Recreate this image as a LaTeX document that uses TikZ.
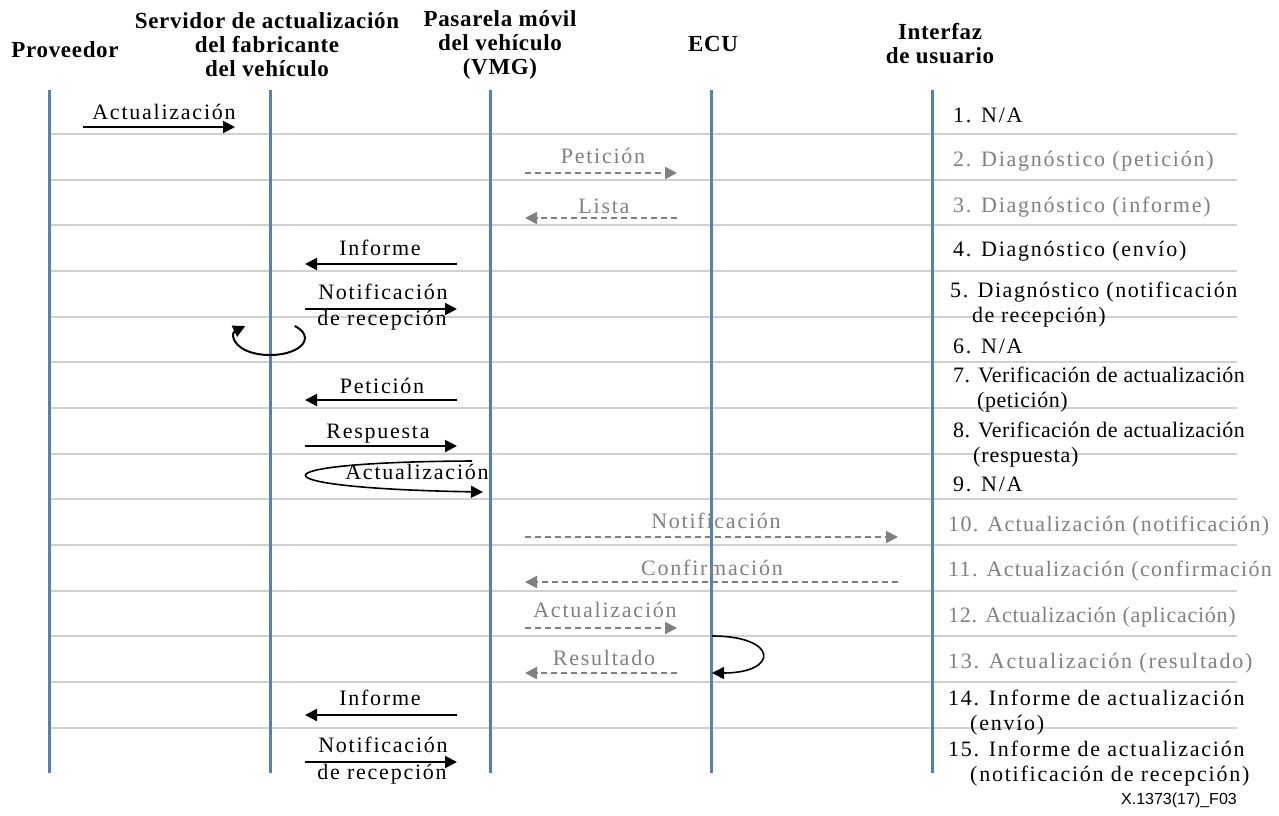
\documentclass[tikz,border=0pt]{standalone}
\usepackage{fontspec}
\setmainfont{Liberation Serif}
\newfontfamily\lblfont[LetterSpace=8]{Liberation Serif}
\newfontfamily\headfont[LetterSpace=3]{Liberation Serif}
\newfontfamily\tagfont{Liberation Sans}
\newcommand\tracking[1]{\addfontfeature{LetterSpace=#1}}
\usetikzlibrary{arrows.meta}
\definecolor{lifeblue}{RGB}{79,129,189}
\definecolor{gridgray}{RGB}{208,208,208}
\definecolor{msggray}{RGB}{128,128,128}
\begin{document}
\begin{tikzpicture}[x=1pt,y=-1pt,
  head/.style={font=\headfont\bfseries\fontsize{23}{24}\selectfont,align=center,inner sep=0pt},
  lbl/.style={font=\lblfont\fontsize{22}{25}\selectfont,anchor=base,inner sep=0pt},
  steptxt/.style={font=\lblfont\fontsize{22}{25}\selectfont,anchor=base west,inner sep=0pt},
  lifeline/.style={draw=lifeblue,line width=3pt},
  gridline/.style={draw=gridgray,line width=1.6pt},
  msg/.style={draw=black,line width=2pt,-{Triangle[length=12pt,width=12pt]}},
  opt/.style={draw=msggray,line width=2pt,dash pattern=on 6pt off 4pt,-{Triangle[length=12pt,width=12pt]}},
  optlbl/.style={lbl,text=msggray},
  optstep/.style={steptxt,text=msggray}]
\useasboundingbox (0,0) rectangle (1279,815);

% row separators
\foreach \y in {134,180,225,271,317,362,408,454,499,545,591,636,682,728}
  \draw[gridline] (49,\y) -- (1237,\y);

% participants
\node[head] (hprov) at (65,50) {Proveedor};
\node[head] (hserv) at (267,45) {Servidor de actualización\\del fabricante\\del vehículo};
\node[head] (hvmg) at (500,45) {Pasarela móvil\\del vehículo\\(VMG)};
\node[head] (hecu) at (713,44) {ECU};
\node[head] (hui) at (940,44) {Interfaz\\de usuario};

% lifelines
\coordinate (l1t) at (49,90);  \coordinate (l1b) at (49,773);
\coordinate (l2t) at (270,90); \coordinate (l2b) at (270,773);
\coordinate (l3t) at (490,90); \coordinate (l3b) at (490,773);
\coordinate (l4t) at (711,90); \coordinate (l4b) at (711,773);
\coordinate (l5t) at (932,90); \coordinate (l5b) at (932,773);
\foreach \i in {1,...,5} \draw[lifeline] (l\i t) -- (l\i b);

% 1
\coordinate (m1a) at (83,127); \coordinate (m1b) at (235,127);
\draw[msg] (m1a) -- (m1b);
\node[lbl] (t1) at (164,119) {Actualización};
% 2
\coordinate (m2a) at (525,173); \coordinate (m2b) at (677,173);
\draw[opt] (m2a) -- (m2b);
\node[optlbl] (t2) at (603,163) {Petición};
% 3
\coordinate (m3a) at (677,218); \coordinate (m3b) at (525,218);
\draw[opt] (m3a) -- (m3b);
\node[optlbl] (t3) at (604,213) {Lista};
% 4
\coordinate (m4a) at (457,264); \coordinate (m4b) at (305,264);
\draw[msg] (m4a) -- (m4b);
\node[lbl] (t4) at (380,255) {Informe};
% 5
\coordinate (m5a) at (305,309); \coordinate (m5b) at (457,309);
\draw[msg] (m5a) -- (m5b);
\node[lbl] (t5a) at (383,299) {Notificación};
\node[lbl] (t5b) at (382,325) {de recepción};
% 6: self loop on the server
\coordinate (m6a) at (294.7,326);
\draw[msg] (m6a) arc[start angle=-45,end angle=225,x radius=35,y radius=17];
% 7
\coordinate (m7a) at (457,400); \coordinate (m7b) at (305,400);
\draw[msg] (m7a) -- (m7b);
\node[lbl] (t7) at (382,393) {Petición};
% 8
\coordinate (m8a) at (305,446); \coordinate (m8b) at (457,446);
\draw[msg] (m8a) -- (m8b);
\node[lbl] (t8) at (378,438) {Respuesta};
% 9: loop towards the gateway
\coordinate (m9a) at (472,461); \coordinate (m9b) at (483,492);
\draw[msg,line width=1.6pt] (m9a) .. controls (250,462) and (250,488) .. (m9b);
\node[lbl] (t9) at (417,479) {Actualización};
% 10
\coordinate (m10a) at (525,537); \coordinate (m10b) at (898,537);
\draw[opt] (m10a) -- (m10b);
\node[optlbl] (t10) at (716,528) {Notificación};
% 11
\coordinate (m11a) at (898,582); \coordinate (m11b) at (525,582);
\draw[opt] (m11a) -- (m11b);
\node[optlbl] (t11) at (712,575) {Confirmación};
% 12
\coordinate (m12a) at (525,628); \coordinate (m12b) at (677,628);
\draw[opt] (m12a) -- (m12b);
\node[optlbl] (t12) at (605,617) {Actualización};
% 13
\coordinate (m13a) at (677,673); \coordinate (m13b) at (525,673);
\draw[opt] (m13a) -- (m13b);
\node[optlbl] (t13) at (604,665) {Resultado};
% ECU self loop
\coordinate (e1) at (712,636); \coordinate (e2) at (712,673);
\draw[msg,line width=1.6pt] (e1) .. controls (779,636) and (779,673) .. (e2);
% 14
\coordinate (m14a) at (457,715); \coordinate (m14b) at (305,715);
\draw[msg] (m14a) -- (m14b);
\node[lbl] (t14) at (380,705) {Informe};
% 15
\coordinate (m15a) at (305,762); \coordinate (m15b) at (457,762);
\draw[msg] (m15a) -- (m15b);
\node[lbl] (t15a) at (383,752) {Notificación};
\node[lbl] (t15b) at (382,779) {de recepción};

% step descriptions
\node[steptxt] (s1) at (953,122) {1. N/A};
\node[optstep] (s2) at (953,166) {2. Diagnóstico (petición)};
\node[optstep] (s3) at (953,212) {3. Diagnóstico (informe)};
\node[steptxt] (s4) at (953,256) {4. Diagnóstico (envío)};
\node[steptxt] (s5) at (950,297) {\begin{tabular}[t]{@{}l@{}}\tracking{7}5. Diagnóstico (notificación\\\hspace*{22pt}\tracking{6}de recepción)\end{tabular}};
\node[steptxt] (s6) at (953,353) {6. N/A};
\node[steptxt] (s7) at (953,382) {\begin{tabular}[t]{@{}l@{}}\tracking{2}7. Verificación de actualización\\\hspace*{24pt}\tracking{2.5}(petición)\end{tabular}};
\node[steptxt] (s8) at (953,437) {\begin{tabular}[t]{@{}l@{}}\tracking{2}8. Verificación de actualización\\\hspace*{20pt}\tracking{4}(respuesta)\end{tabular}};
\node[steptxt] (s9) at (953,491) {9. N/A};
\node[optstep] (s10) at (948,531) {\tracking{6}10. Actualización (notificación)};
\node[optstep] (s11) at (948,576) {\tracking{6}11. Actualización (confirmación};
\node[optstep] (s12) at (948,622) {\tracking{3.3}12. Actualización (aplicación)};
\node[optstep] (s13) at (948,668) {13. Actualización (resultado)};
\node[steptxt] (s14) at (948,705) {\begin{tabular}[t]{@{}l@{}}14. Informe de actualización\\\hspace*{22pt}(envío)\end{tabular}};
\node[steptxt] (s15) at (948,756) {\begin{tabular}[t]{@{}l@{}}15. Informe de actualización\\\hspace*{22pt}(notificación de recepción)\end{tabular}};

\node[font=\tagfont\fontsize{16}{18}\selectfont,anchor=base east,inner sep=0pt] (fig) at (1237,804) {X.1373(17)\_F03};
\end{tikzpicture}
\end{document}
